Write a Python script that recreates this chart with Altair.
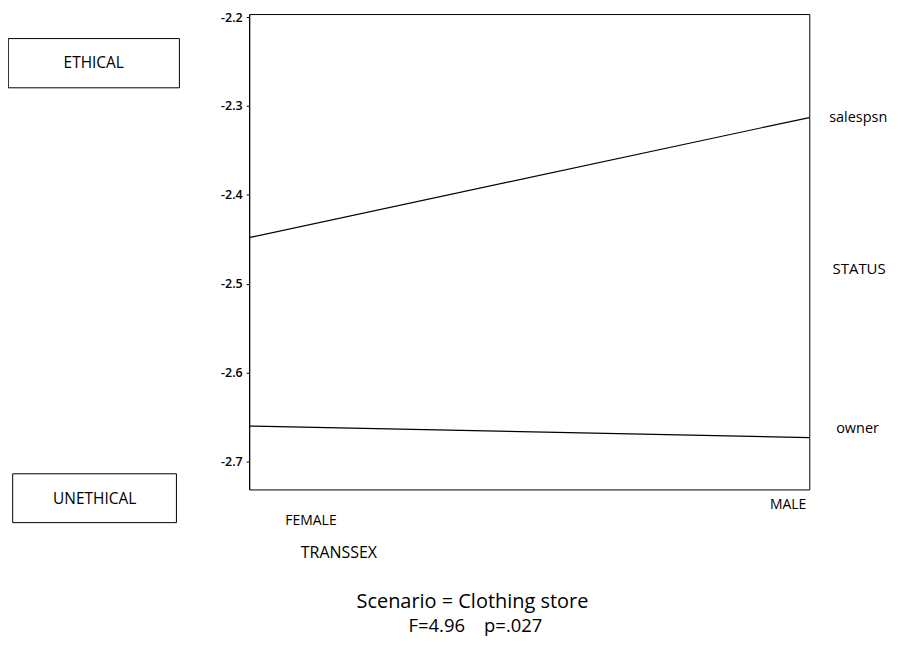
import altair as alt
import pandas as pd

# ---- data ----
sexes = ["FEMALE", "MALE"]
sex_pos = [0, 1]
status_levels = ["salespsn", "owner"]
salespsn_means = [-2.448, -2.313]
owner_means = [-2.660, -2.673]
y_ticks = [-2.2, -2.3, -2.4, -2.5, -2.6, -2.7]
y_domain = [-2.7313, -2.1966]

box_labels = ["ETHICAL", "UNETHICAL"]
legend_title = "STATUS"
x_title = "TRANSSEX"
caption_lines = ["Scenario = Clothing store", "F=4.96\u00a0\u00a0\u00a0\u00a0p=.027"]

rows = []
for lvl, vals in zip(status_levels, [salespsn_means, owner_means]):
    for s, p, v in zip(sexes, sex_pos, vals):
        rows.append({"status": lvl, "sex": s, "pos": p, "mean": v})
df = pd.DataFrame(rows)

W, H = 562, 477
OX, OY = 250, 12.7  # page position of the plot origin
FONT = "Open Sans"

x = alt.X("pos:Q", scale=alt.Scale(domain=[0, 1], nice=False, zero=False), axis=None)
y = alt.Y(
    "mean:Q",
    scale=alt.Scale(domain=y_domain, nice=False, zero=False),
    axis=alt.Axis(
        values=y_ticks, title=None, grid=False, domain=True,
        domainColor="black", tickColor="black", tickSize=3,
        labelFont=FONT, labelFontSize=12.5, labelFontWeight=600,
        labelColor="black", labelPadding=4,
        labelExpr="'-' + format(abs(datum.value), '.1f')",
    ),
)

lines = alt.Chart(df).mark_line(color="black", strokeWidth=1.2).encode(
    x=x, y=y, detail="status:N"
)

end_sales = alt.Chart(df).transform_filter(
    "datum.pos == 1 && datum.status == 'salespsn'"
).mark_text(font=FONT, fontSize=14.5, align="left", baseline="middle", dx=20, dy=0, color="black").encode(
    x=x, y=y, text="status:N"
)
end_owner = alt.Chart(df).transform_filter(
    "datum.pos == 1 && datum.status == 'owner'"
).mark_text(font=FONT, fontSize=14.5, align="left", baseline="middle", dx=27, dy=-9, color="black").encode(
    x=x, y=y, text="status:N"
)

fem_lab = alt.Chart(df).transform_filter(
    "datum.pos == 0 && datum.status == 'salespsn'"
).mark_text(font=FONT, fontSize=14, align="center", baseline="middle", dx=62, color="black").encode(
    x=x, y=alt.value(521 - OY), text="sex:N"
)
male_lab = alt.Chart(df).transform_filter(
    "datum.pos == 1 && datum.status == 'salespsn'"
).mark_text(font=FONT, fontSize=14, align="right", baseline="middle", dx=-3, color="black").encode(
    x=x, y=alt.value(505 - OY), text="sex:N"
)


def label(text, px, py, size, align="center"):
    return alt.Chart(pd.DataFrame({"t": [text]})).mark_text(
        font=FONT, fontSize=size, align=align, baseline="middle", color="black"
    ).encode(text="t:N", x=alt.value(px - OX), y=alt.value(py - OY))


def box(x1, x2, y1, y2):
    return alt.Chart(pd.DataFrame({"a": [0]})).mark_rect(
        fill="white", stroke="black", strokeWidth=1
    ).encode(
        x=alt.value(x1 - OX), x2=alt.value(x2 - OX),
        y=alt.value(y1 - OY), y2=alt.value(y2 - OY),
    )


chart = alt.layer(
    lines,
    end_sales,
    end_owner,
    fem_lab,
    male_lab,
    box(8.3, 180, 37.3, 86.7),
    label(box_labels[0], 94, 62, 15.5),
    box(12.7, 177, 474, 523),
    label(box_labels[1], 95, 499, 15.5),
    label(legend_title, 862, 269, 15),
    label(x_title, 340, 553, 16),
    label(caption_lines[0], 474, 603, 20),
    label(caption_lines[1], 477, 627, 18.5),
).properties(
    width=W,
    height=H,
    autosize=alt.AutoSizeParams(type="none"),
    padding={"left": 242, "top": 5, "right": 83, "bottom": 152},
).configure_view(stroke="black", strokeWidth=1)

chart.save("out.html", embed_options={"renderer": "svg", "actions": False})
